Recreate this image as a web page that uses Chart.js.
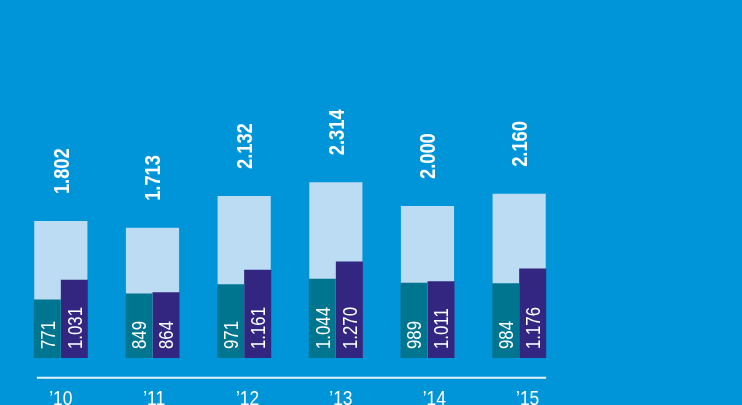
<!DOCTYPE html>
<html>
<head>
<meta charset="utf-8">
<script src="https://cdn.jsdelivr.net/npm/chart.js@4"></script>
<style>
  html, body { margin: 0; padding: 0; background: #0095d8; }
  #wrap { width: 742px; height: 405px; }
</style>
</head>
<body>
<div id="wrap"><canvas id="barChart" width="742" height="405"></canvas></div>
<script>
// years and values (thousands separator is a dot in the original)
var years = ['\u201910', '\u201911', '\u201912', '\u201913', '\u201914', '\u201915'];
var totals = [1802, 1713, 2132, 2314, 2000, 2160];
var tealValues = [771, 849, 971, 1044, 989, 984];
var purpleValues = [1031, 864, 1161, 1270, 1011, 1176];

var FONT = '"Liberation Sans", Arial, sans-serif';
var NARROW = 0.82; // squeeze to mimic the condensed face

function fmt(n) {
    return String(n).replace(/\B(?=(\d{3})+(?!\d))/g, '.');
}

// draws value labels, the base line and the year labels
var labelPlugin = {
    id: 'labels',
    afterDatasetsDraw: function (chart) {
        var ctx = chart.ctx;
        var xScale = chart.scales.x;
        var yScale = chart.scales.y;
        var base = yScale.getPixelForValue(0);

        function vertical(text, x, y, size, weight) {
            ctx.save();
            ctx.translate(x, y);
            ctx.rotate(-Math.PI / 2);
            ctx.scale(NARROW, 1);
            ctx.font = weight + ' ' + size + 'px ' + FONT;
            ctx.textAlign = 'left';
            ctx.textBaseline = 'alphabetic';
            ctx.fillStyle = '#ffffff';
            ctx.fillText(text, 0, size * 0.716 / 2);
            ctx.restore();
        }

        var totalMeta = chart.getDatasetMeta(0);
        var tealMeta = chart.getDatasetMeta(1);
        var purpleMeta = chart.getDatasetMeta(2);

        totalMeta.data.forEach(function (bar, i) {
            vertical(fmt(totals[i]), bar.x, bar.y - 27, 22.3, 'bold');
        });
        tealMeta.data.forEach(function (bar, i) {
            vertical(fmt(tealValues[i]), bar.x, base - 9, 20.5, 'normal');
        });
        purpleMeta.data.forEach(function (bar, i) {
            vertical(fmt(purpleValues[i]), bar.x, base - 9, 20.5, 'normal');
        });

        // base line under the bars
        var x0 = xScale.getPixelForValue(0) - 24;
        var x1 = xScale.getPixelForValue(years.length - 1) + 27;
        ctx.save();
        ctx.strokeStyle = '#e6f3fb';
        ctx.lineWidth = 2;
        ctx.beginPath();
        ctx.moveTo(x0, base + 19.7);
        ctx.lineTo(x1, base + 19.7);
        ctx.stroke();
        ctx.restore();

        // year labels (sit on a slightly wider grid than the bars)
        years.forEach(function (y, i) {
            ctx.save();
            ctx.translate(xScale.getPixelForValue(i) + i * 1.7, base + 46.7);
            ctx.scale(0.85, 1);
            ctx.font = 'normal 20.5px ' + FONT;
            ctx.fillStyle = '#ffffff';
            ctx.textAlign = 'center';
            ctx.textBaseline = 'alphabetic';
            ctx.fillText(y, 0, 0);
            ctx.restore();
        });
    }
};

document.addEventListener('DOMContentLoaded', function () {
    var ctx = document.getElementById('barChart').getContext('2d');
    new Chart(ctx, {
        type: 'bar',
        data: {
            labels: years,
            datasets: [{
                label: 'Gesamt',
                data: totals,
                backgroundColor: '#bcdcf3',
                grouped: false,
                categoryPercentage: 0.58,
                barPercentage: 1,
                order: 2
            }, {
                label: 'A',
                data: tealValues,
                backgroundColor: '#007590',
                categoryPercentage: 0.59,
                barPercentage: 1,
                order: 1
            }, {
                label: 'B',
                data: purpleValues,
                backgroundColor: '#332680',
                categoryPercentage: 0.59,
                barPercentage: 1,
                order: 1
            }]
        },
        options: {
            responsive: false,
            animation: false,
            layout: {
                padding: { left: 15, right: 177, top: 130, bottom: 47 }
            },
            plugins: {
                legend: { display: false },
                tooltip: { enabled: false }
            },
            scales: {
                x: { display: false, offset: true },
                y: { display: false, min: 0, max: 3000 }
            }
        },
        plugins: [labelPlugin]
    });
});
</script>
</body>
</html>
